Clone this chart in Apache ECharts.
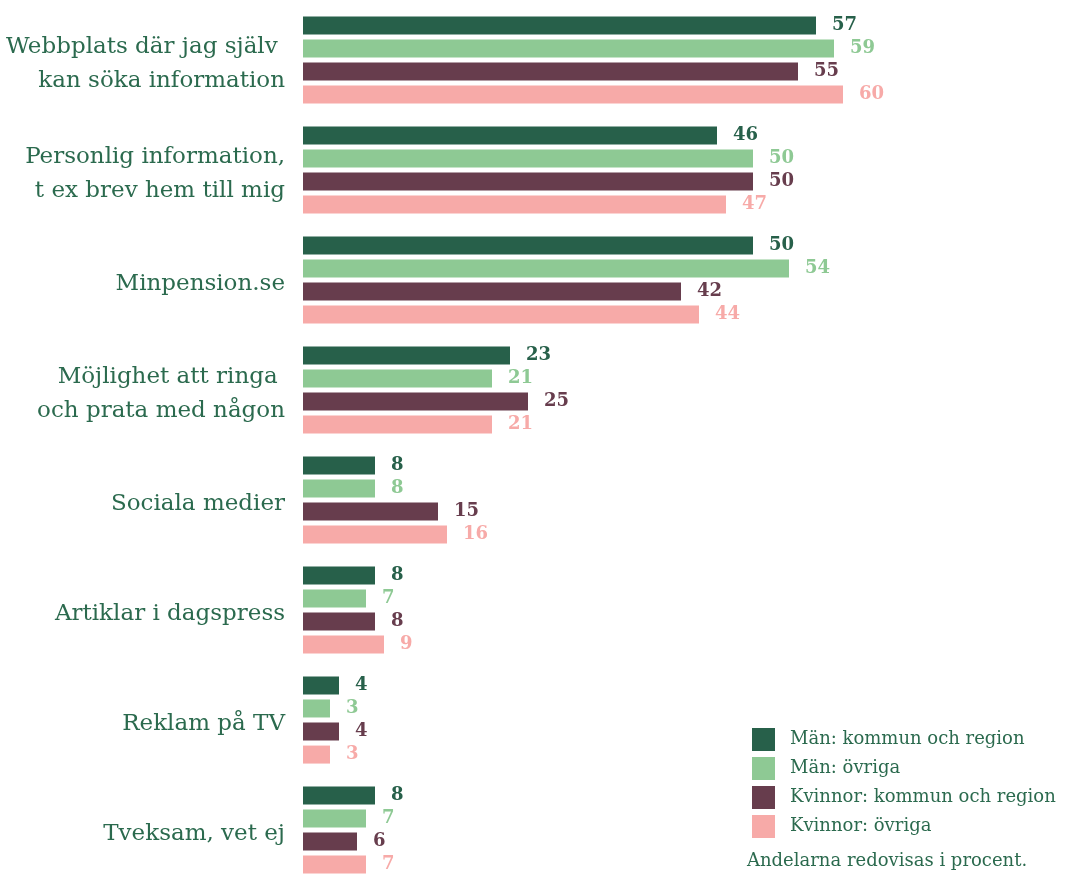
<!DOCTYPE html>
<html>
<head>
<meta charset="utf-8">
<script src="https://cdn.jsdelivr.net/npm/echarts@6/dist/echarts.min.js"></script>
<style>
  html, body { margin: 0; padding: 0; background: #fff; }
  #myChart { width: 1065px; height: 876px; }
</style>
</head>
<body>
<div id="myChart"></div>
<script type="text/javascript">
  // kategorier och värden (procent)
  var categories = [
    'Webbplats där jag själv \nkan söka information',
    'Personlig information,\nt ex brev hem till mig',
    'Minpension.se',
    'Möjlighet att ringa \noch prata med någon',
    'Sociala medier',
    'Artiklar i dagspress',
    'Reklam på TV',
    'Tveksam, vet ej'
  ]
  var seriesNames = ['Män: kommun och region', 'Män: övriga', 'Kvinnor: kommun och region', 'Kvinnor: övriga']
  var menKommun = [57, 46, 50, 23, 8, 8, 4, 8]
  var menOvriga = [59, 50, 54, 21, 8, 7, 3, 7]
  var kvinnorKommun = [55, 50, 42, 25, 15, 8, 4, 6]
  var kvinnorOvriga = [60, 47, 44, 21, 16, 9, 3, 7]
  var colors = ['#27604a', '#8ec994', '#673d4d', '#f7aaa8']
  var textColor = '#2b6a4e'
  var font = 'DejaVu Serif'

  var values = [menKommun, menOvriga, kvinnorKommun, kvinnorOvriga]
  var series = values.map(function (d, i) {
    return {
      name: seriesNames[i],
      type: 'bar',
      data: d,
      barWidth: 18,
      barGap: '28%',
      itemStyle: { color: colors[i] },
      label: {
        show: true,
        position: 'right',
        distance: 16,
        color: colors[i],
        fontFamily: font,
        fontWeight: 'bold',
        fontSize: 18
      }
    }
  })

  var myChart = echarts.init(document.getElementById('myChart'))
  myChart.setOption({
    animation: false,
    grid: { left: 303, top: 5, width: 540, height: 880, outerBoundsMode: 'none' },
    xAxis: {
      type: 'value',
      min: 0,
      max: 60,
      show: false
    },
    yAxis: {
      type: 'category',
      data: categories,
      inverse: true,
      axisLine: { show: false },
      axisTick: { show: false },
      splitLine: { show: false },
      axisLabel: {
        margin: 18,
        color: textColor,
        fontFamily: font,
        fontSize: 23,
        lineHeight: 34,
        align: 'right',
        // flytta texten några pixlar nedåt
        formatter: function (v) {
          return v.split('\n').map(function (s) { return '{t|' + s + '}' }).join('\n')
        },
        rich: {
          t: { padding: [8, 0, 0, 0], lineHeight: 34, fontSize: 23, fontFamily: font, color: textColor }
        }
      }
    },
    legend: {
      orient: 'vertical',
      left: 747,
      top: 723,
      itemWidth: 23,
      itemHeight: 23,
      itemGap: 6,
      icon: 'rect',
      data: seriesNames,
      textStyle: {
        color: textColor,
        fontFamily: font,
        fontSize: 18,
        padding: [0, 0, 0, 10]
      }
    },
    graphic: [{
      type: 'text',
      left: 747,
      top: 852,
      style: {
        text: 'Andelarna redovisas i procent.',
        fill: textColor,
        font: '18px "DejaVu Serif"'
      }
    }],
    series: series
  })
</script>
</body>
</html>
